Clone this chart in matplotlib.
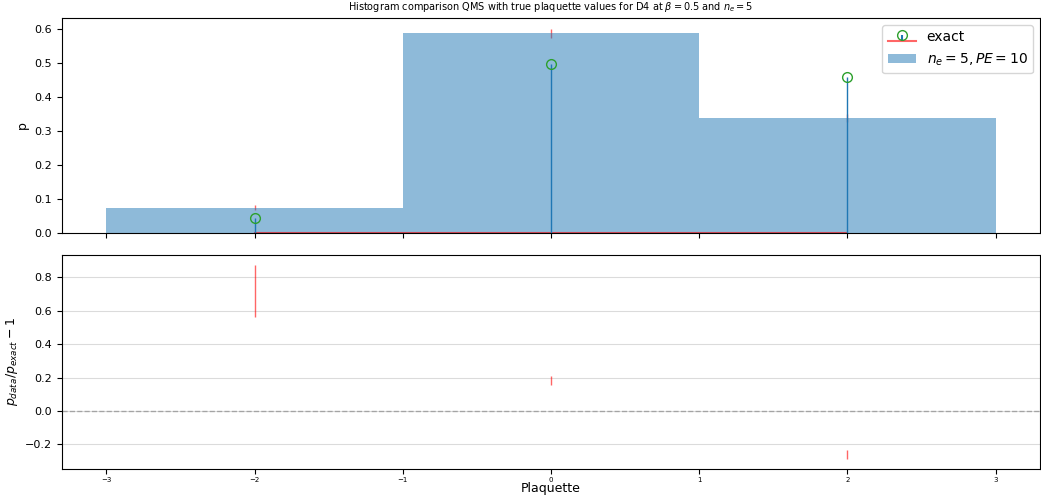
import numpy as np
import matplotlib
matplotlib.use('Agg')
import matplotlib.pyplot as plt

# ===================== 数据 =====================
plaquette = [-2, 0, 2]
bin_edges = [-3, -1, 1, 3]
p_data = [0.075, 0.587, 0.338]
p_data_err = [0.007, 0.013, 0.013]
p_exact = [0.044, 0.496, 0.458]
ratio = [0.72, 0.183, -0.262]
ratio_err = [0.155, 0.027, 0.028]
xticks = [-3, -2, -1, 0, 1, 2, 3]

fig = plt.figure(figsize=(10.41, 4.98), dpi=100)
ax1 = fig.add_axes([0.0596, 0.532, 0.9395, 0.432])
ax2 = fig.add_axes([0.0596, 0.058, 0.9395, 0.430], sharex=ax1)

# ===== 上图: 直方图 + exact =====
widths = np.diff(bin_edges)
ax1.errorbar(plaquette, p_data, yerr=p_data_err, fmt='none', ecolor='red', alpha=0.6, lw=1, zorder=1)
bars = ax1.bar(plaquette, p_data, width=widths, color='C0', alpha=0.5, label=r'$n_e=5, PE=10$', zorder=2)
stem = ax1.stem(plaquette, p_exact, linefmt='C0-', markerfmt='o', basefmt='r-', label='exact')
markers, stems, base = stem
markers.set_color('C2')
markers.set_markerfacecolor('none')
markers.set_markersize(7)
stems.set_linewidth(1)
stems.set_zorder(3)
markers.set_zorder(4)
base.set_alpha(0.6)
base.set_linewidth(1.5)
ax1.set_ylabel('p', fontsize=9)
ax1.set_ylim(0, 0.632)
ax1.tick_params(axis='y', labelsize=8)
ax1.set_title(r'Histogram comparison QMS with true plaquette values for D4 at $\beta = 0.5$ and $n_e = 5$', fontsize=7)
ax1.legend([stem, bars], ['exact', r'$n_e=5, PE=10$'], loc='upper right', fontsize=10)
plt.setp(ax1.get_xticklabels(), visible=False)

# ===== 下图: 相对偏差 =====
ax2.errorbar(plaquette, ratio, yerr=ratio_err, fmt='none', ecolor='red', alpha=0.6, lw=1)
ax2.axhline(0, color='grey', linestyle='--', alpha=0.6, lw=1)
ax2.grid(axis='y', color='lightgrey', alpha=0.8)
ax2.set_axisbelow(True)
ax2.set_ylabel(r'$p_{data}/p_{exact} - 1$', fontsize=9)
ax2.set_xlabel('Plaquette', fontsize=9)
ax2.xaxis.set_label_coords(0.5, -0.062)
ax2.set_xticks(xticks)
ax2.tick_params(axis='x', labelsize=5, pad=2)
ax2.tick_params(axis='y', labelsize=8)
ax2.set_xlim(-3.3, 3.3)

plt.savefig('out.png', dpi=100)
